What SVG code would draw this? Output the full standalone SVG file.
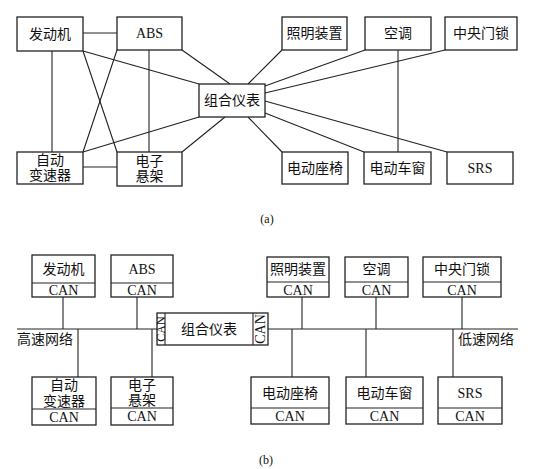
<svg xmlns="http://www.w3.org/2000/svg" width="554" height="469" viewBox="0 0 554 469">
<style>
.b{fill:#fff;stroke:#222;stroke-width:1.3}
.l{stroke:#222;stroke-width:1.1;fill:none}
.t{font-family:"Liberation Serif","Noto Sans CJK SC",serif;font-size:14px;fill:#111;text-anchor:middle;dominant-baseline:central}
.c{font-family:"Liberation Serif","Noto Sans CJK SC",serif;font-size:12px;fill:#111;text-anchor:middle;dominant-baseline:central}
</style>
<rect width="554" height="469" fill="#fff"/>
<g id="connectors-a" class="l">
<line x1="83" y1="33" x2="117" y2="33"/>
<line x1="52" y1="51" x2="52" y2="152"/>
<line x1="149" y1="50" x2="149" y2="152"/>
<line x1="83" y1="167" x2="117" y2="167"/>
<line x1="83" y1="51" x2="117" y2="152"/>
<line x1="117" y1="50" x2="83" y2="152"/>
<line x1="83" y1="51" x2="199" y2="84"/>
<line x1="182" y1="50" x2="230" y2="84"/>
<line x1="83" y1="152" x2="199" y2="117"/>
<line x1="182" y1="152" x2="225" y2="117"/>
<line x1="248" y1="84" x2="282" y2="50"/>
<line x1="265" y1="86" x2="365" y2="50"/>
<line x1="265" y1="93" x2="445" y2="50"/>
<line x1="398" y1="50" x2="398" y2="152"/>
<line x1="265" y1="101" x2="447" y2="152"/>
<line x1="265" y1="113" x2="364" y2="152"/>
<line x1="248" y1="117" x2="282" y2="152"/>
</g>
<g id="a-engine"><rect class="b" x="17" y="17" width="66" height="34"/><text class="t" x="50" y="34">发动机</text></g>
<g id="a-abs"><rect class="b" x="117" y="17" width="65" height="33"/><text class="t" x="149.5" y="33.5">ABS</text></g>
<g id="a-cluster"><rect class="b" x="199" y="84" width="66" height="33"/><text class="t" x="232" y="100.5">组合仪表</text></g>
<g id="a-trans"><rect class="b" x="17" y="152" width="66" height="32"/><text class="t" x="50" y="160">自动</text><text class="t" x="50" y="175">变速器</text></g>
<g id="a-susp"><rect class="b" x="117" y="152" width="65" height="34"/><text class="t" x="149.5" y="161">电子</text><text class="t" x="149.5" y="176">悬架</text></g>
<g id="a-light"><rect class="b" x="282" y="17" width="65" height="33"/><text class="t" x="314.5" y="33.5">照明装置</text></g>
<g id="a-ac"><rect class="b" x="365" y="17" width="66" height="33"/><text class="t" x="398" y="33.5">空调</text></g>
<g id="a-lock"><rect class="b" x="445" y="17" width="72" height="33"/><text class="t" x="481" y="33.5">中央门锁</text></g>
<g id="a-seat"><rect class="b" x="282" y="152" width="66" height="32"/><text class="t" x="315" y="168">电动座椅</text></g>
<g id="a-window"><rect class="b" x="364" y="152" width="67" height="32"/><text class="t" x="397.5" y="168">电动车窗</text></g>
<g id="a-srs"><rect class="b" x="447" y="152" width="66" height="32"/><text class="t" x="480" y="168">SRS</text></g>
<text class="c" x="267" y="219">(a)</text>

<g id="connectors-b" class="l">
<line x1="17" y1="329" x2="157" y2="329"/>
<line x1="268" y1="329" x2="518" y2="329"/>
<line x1="63" y1="297" x2="63" y2="329"/>
<line x1="137" y1="297" x2="137" y2="329"/>
<line x1="78" y1="329" x2="78" y2="377"/>
<line x1="152" y1="329" x2="152" y2="377"/>
<line x1="302" y1="297" x2="302" y2="329"/>
<line x1="376" y1="297" x2="376" y2="329"/>
<line x1="462" y1="297" x2="462" y2="329"/>
<line x1="292" y1="329" x2="292" y2="377"/>
<line x1="366" y1="329" x2="366" y2="377"/>
<line x1="453" y1="329" x2="453" y2="377"/>
</g>
<g id="b-engine"><rect class="b" x="32" y="255" width="63" height="42"/><line class="l" x1="32" y1="283" x2="95" y2="283"/><text class="t" x="63.5" y="269">发动机</text><text class="t" x="63.5" y="290">CAN</text></g>
<g id="b-abs"><rect class="b" x="111" y="255" width="62" height="42"/><line class="l" x1="111" y1="283" x2="173" y2="283"/><text class="t" x="142" y="269">ABS</text><text class="t" x="142" y="290">CAN</text></g>
<g id="b-cluster"><rect class="b" x="157" y="313" width="111" height="32"/><line class="l" x1="165" y1="313" x2="165" y2="345"/><line class="l" x1="253" y1="313" x2="253" y2="345"/><text class="t" x="209" y="329">组合仪表</text><text class="t" transform="translate(161,329) rotate(-90)" x="0" y="0" style="font-size:12px">CAN</text><text class="t" transform="translate(260.5,329) rotate(-90)" x="0" y="0">CAN</text></g>
<text class="t" x="45" y="339">高速网络</text>
<text class="t" x="486" y="339">低速网络</text>
<g id="b-trans"><rect class="b" x="32" y="377" width="64" height="48"/><line class="l" x1="32" y1="409" x2="96" y2="409"/><text class="t" x="64" y="385">自动</text><text class="t" x="64" y="401">变速器</text><text class="t" x="64" y="417">CAN</text></g>
<g id="b-susp"><rect class="b" x="111" y="377" width="62" height="48"/><line class="l" x1="111" y1="408" x2="173" y2="408"/><text class="t" x="142" y="385">电子</text><text class="t" x="142" y="400">悬架</text><text class="t" x="142" y="416.5">CAN</text></g>
<g id="b-light"><rect class="b" x="267" y="257" width="62" height="40"/><line class="l" x1="267" y1="282" x2="329" y2="282"/><text class="t" x="298" y="269.5">照明装置</text><text class="t" x="298" y="290">CAN</text></g>
<g id="b-ac"><rect class="b" x="345" y="257" width="63" height="40"/><line class="l" x1="345" y1="282" x2="408" y2="282"/><text class="t" x="376.5" y="269.5">空调</text><text class="t" x="376.5" y="290">CAN</text></g>
<g id="b-lock"><rect class="b" x="423" y="257" width="78" height="40"/><line class="l" x1="423" y1="282" x2="501" y2="282"/><text class="t" x="462" y="269.5">中央门锁</text><text class="t" x="462" y="290">CAN</text></g>
<g id="b-seat"><rect class="b" x="251" y="377" width="78" height="47"/><line class="l" x1="251" y1="408" x2="329" y2="408"/><text class="t" x="290" y="393">电动座椅</text><text class="t" x="290" y="416">CAN</text></g>
<g id="b-window"><rect class="b" x="346" y="377" width="77" height="47"/><line class="l" x1="346" y1="408" x2="423" y2="408"/><text class="t" x="384.5" y="393">电动车窗</text><text class="t" x="384.5" y="416">CAN</text></g>
<g id="b-srs"><rect class="b" x="438" y="377" width="64" height="47"/><line class="l" x1="438" y1="408" x2="502" y2="408"/><text class="t" x="470" y="393">SRS</text><text class="t" x="470" y="416">CAN</text></g>
<text class="c" x="266" y="460">(b)</text>
</svg>
